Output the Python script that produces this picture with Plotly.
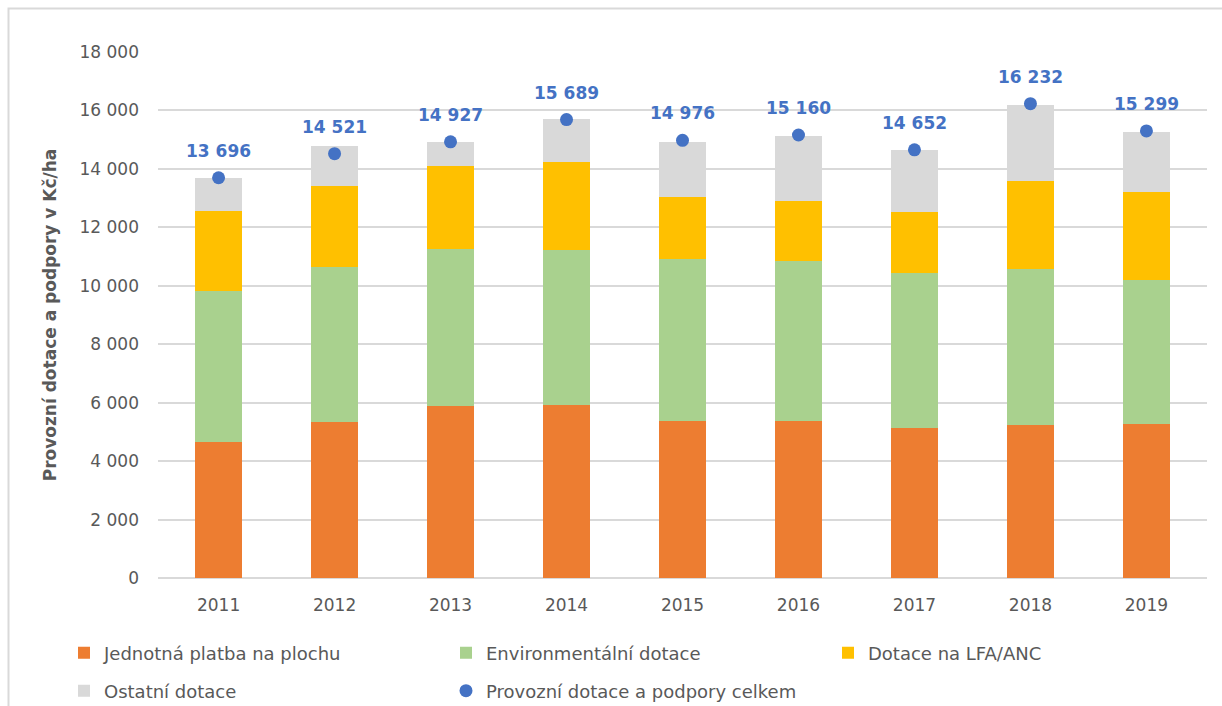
import plotly.graph_objects as go

years = ["2011", "2012", "2013", "2014", "2015", "2016", "2017", "2018", "2019"]
jednotna = [4665, 5329, 5897, 5932, 5384, 5384, 5144, 5224, 5270]
environment = [5157, 5324, 5351, 5306, 5534, 5463, 5280, 5364, 4918]
lfa = [2737, 2751, 2862, 2991, 2110, 2068, 2096, 2994, 3032]
ostatni = [1140, 1390, 810, 1463, 1905, 2209, 2120, 2598, 2038]
celkem = [13696, 14521, 14927, 15689, 14976, 15160, 14652, 16232, 15299]

names = ["Jednotná platba na plochu", "Environmentální dotace", "Dotace na LFA/ANC",
         "Ostatní dotace", "Provozní dotace a podpory celkem"]
colors = ["#ED7D31", "#A9D18E", "#FFC000", "#D9D9D9", "#4472C4"]

FONT = "DejaVu Sans"
GREY = "#595959"

# plot area in pixels
W, H = 1222, 706
L, R, T, B = 158, 1207, 52, 578
pw, ph = R - L, B - T
def px_x(p):
    return (p - L) / pw
def px_y(p):
    return (B - p) / ph

fig = go.Figure()
series = [jednotna, environment, lfa, ostatni]
for i, vals in enumerate(series):
    fig.add_trace(go.Bar(
        x=years, y=vals, name=names[i], marker=dict(color=colors[i], line=dict(width=0)),
        legend="legend" if i < 3 else "legend2", hoverinfo="skip",
    ))

fig.add_trace(go.Scatter(
    x=years, y=celkem, name=names[4], mode="markers",
    marker=dict(color=colors[4], size=13), legend="legend2", hoverinfo="skip",
))

# category axis: annotations use the category index
for idx, v in enumerate(celkem):
    fig.add_annotation(
        x=idx, y=v, text=f"{v:,}".replace(",", " "), showarrow=False,
        yshift=27, yanchor="middle", xanchor="center",
        font=dict(family=FONT, size=17, color="#4472C4", weight="bold"),
    )

# outer chart border
fig.add_shape(type="rect", xref="paper", yref="paper",
              x0=px_x(8.5), x1=px_x(1230), y0=px_y(8.5), y1=px_y(715),
              line=dict(color="#D9D9D9", width=2), fillcolor="rgba(0,0,0,0)", layer="below")

legend_common = dict(
    orientation="h", xanchor="left", yanchor="middle",
    font=dict(family=FONT, size=18, color=GREY),
    entrywidth=337, entrywidthmode="pixels", bgcolor="rgba(0,0,0,0)",
    traceorder="normal", itemclick=False, itemdoubleclick=False,
)

fig.update_layout(
    width=W, height=H,
    margin=dict(l=L, r=W - R, t=T, b=H - B, autoexpand=False),
    paper_bgcolor="white", plot_bgcolor="white",
    barmode="stack", bargap=0.6,
    separators=", ",
    font=dict(family=FONT, color=GREY, size=17),
    showlegend=True,
    legend=dict(x=px_x(64), y=px_y(653), **legend_common),
    legend2=dict(x=px_x(64), y=px_y(691), **legend_common),
    xaxis=dict(
        type="category", showgrid=False, showline=False, zeroline=False,
        ticks="", ticklabelstandoff=15,
        tickfont=dict(family=FONT, size=17, color=GREY),
    ),
    yaxis=dict(
        range=[0, 18000], dtick=2000, tickformat=",d",
        showgrid=True, gridcolor="#D9D9D9", gridwidth=1.5,
        zeroline=True, zerolinecolor="#D9D9D9", zerolinewidth=1.5,
        showline=False, ticks="", ticklabelstandoff=18,
        tickfont=dict(family=FONT, size=17, color=GREY),
        title=dict(text="Provozní dotace a podpory v Kč/ha", standoff=18,
                   font=dict(family=FONT, size=17, color=GREY, weight="bold")),
    ),
)

fig.write_html("out.html", config={"displayModeBar": False},
               post_script="document.body.style.margin='0';")
